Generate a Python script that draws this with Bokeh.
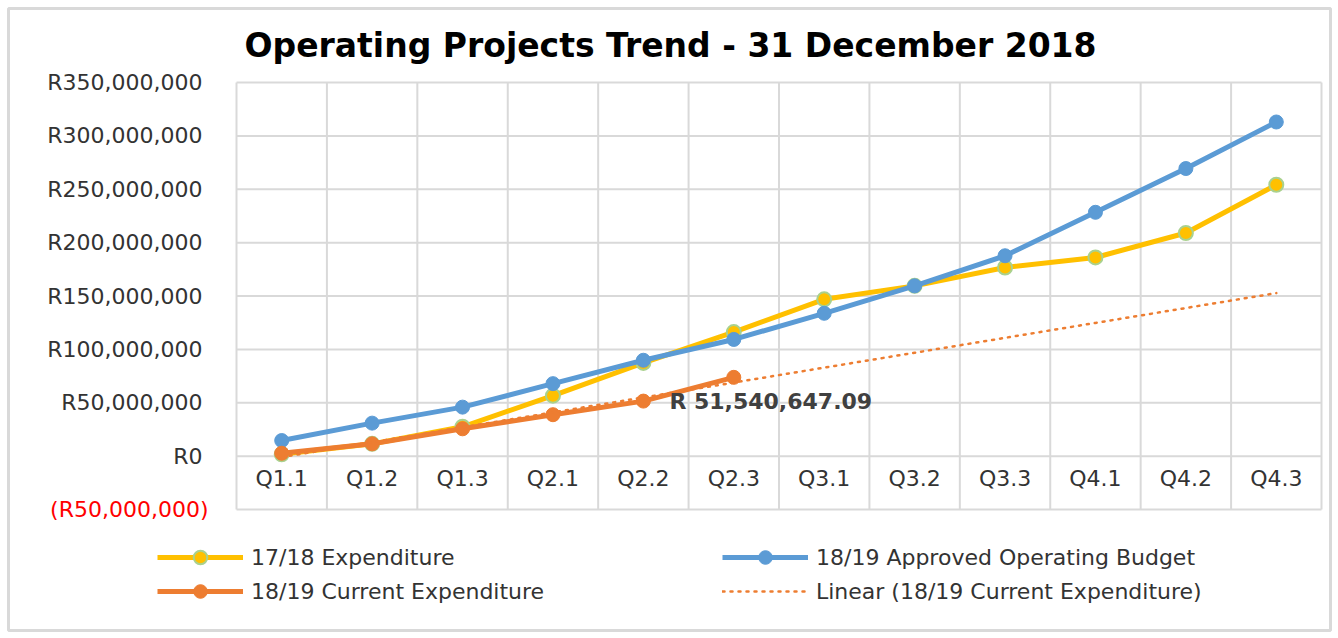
import numpy as np
from bokeh.plotting import figure
from bokeh.models import (FixedTicker, Label, Legend, LegendItem, ColumnDataSource,
                          LinearAxis, Range1d)
from bokeh.embed import file_html
from bokeh.resources import INLINE

categories = ["Q1.1", "Q1.2", "Q1.3", "Q2.1", "Q2.2", "Q2.3",
              "Q3.1", "Q3.2", "Q3.3", "Q4.1", "Q4.2", "Q4.3"]
exp_1718 = [1.7e6, 11.5e6, 27.5e6, 56.6e6, 87.3e6, 116.2e6,
            146.9e6, 159.5e6, 176.7e6, 186.1e6, 209.0e6, 254.2e6]
budget_1819 = [14.6e6, 30.9e6, 45.9e6, 67.9e6, 89.8e6, 109.3e6,
               133.8e6, 159.5e6, 187.7e6, 228.4e6, 269.4e6, 313.0e6]
current_1819 = [2.7e6, 11.5e6, 25.6e6, 38.8e6, 51540647.09, 73.8e6]
y_ticks = [-50e6, 0, 50e6, 100e6, 150e6, 200e6, 250e6, 300e6, 350e6]
title_text = "Operating Projects Trend - 31 December 2018"
data_label = "R 51,540,647.09"
label_index = 4

FONT = "DejaVu Sans"
GRID = "#d9d9d9"
TXT = "#333333"
YEL, BLU, ORA = "#ffc000", "#5b9bd5", "#ed7d31"

# canvas, outer margin, and plot-area box (pixels inside the bordered frame)
W, H, M = 1338, 638, 8
FW, FH = W - 2 * M, H - 2 * M
PL, PR, PT, PB = 228, 1313, 74, 501

n = len(categories)
xs = list(range(n))
xc = xs[:len(current_1819)]

x0, x1 = -0.5, n - 0.5
y0, y1 = y_ticks[0], y_ticks[-1]
kx = (PR - PL) / (x1 - x0)
ky = (PB - PT) / (y1 - y0)
x_range = Range1d(x0 - PL / kx, x1 + (FW - PR) / kx)
y_range = Range1d(y0 - (FH - PB) / ky, y1 + PT / ky)

# linear trend of the current expenditure, over all quarters
coef = np.polyfit(np.array(xc) + 1, np.array(current_1819), 1)
trend = list(np.polyval(coef, np.array(xs) + 1))

p = figure(width=W, height=H, output_backend="svg", toolbar_location=None,
           x_range=x_range, y_range=y_range,
           min_border_left=M, min_border_right=M, min_border_top=M,
           min_border_bottom=M)
p.background_fill_color = "white"
p.border_fill_color = "white"
p.outline_line_color = GRID
p.outline_line_width = 3
p.xgrid.grid_line_color = None
p.ygrid.grid_line_color = None

# grid of the plot area
bounds = [i - 0.5 for i in range(n + 1)]
p.segment(x0=[x0] * len(y_ticks), x1=[x1] * len(y_ticks), y0=y_ticks, y1=y_ticks,
          line_color=GRID, line_width=2)
p.segment(x0=bounds, x1=bounds, y0=[y0] * len(bounds), y1=[y1] * len(bounds),
          line_color=GRID, line_width=2)

# y axis (positive ticks)
p.yaxis.ticker = FixedTicker(ticks=[t for t in y_ticks if t >= 0])
p.yaxis.major_label_overrides = {t: "R{:,.0f}".format(t) for t in y_ticks if t >= 0}
p.yaxis.fixed_location = x0
p.yaxis.axis_line_color = None
p.yaxis.major_tick_line_color = None
p.yaxis.minor_tick_line_color = None
p.yaxis.major_label_standoff = 28
p.yaxis.major_label_text_font = FONT
p.yaxis.major_label_text_font_size = "22px"
p.yaxis.major_label_text_color = TXT

# negative tick in red
neg = [t for t in y_ticks if t < 0]
ax_neg = LinearAxis(ticker=FixedTicker(ticks=neg),
                    major_label_overrides={t: "(R{:,.0f})".format(-t) for t in neg},
                    fixed_location=x0, axis_line_color=None,
                    major_tick_line_color=None, minor_tick_line_color=None,
                    major_label_standoff=22, major_label_text_font=FONT,
                    major_label_text_font_size="22px",
                    major_label_text_color="#ff0000")
p.add_layout(ax_neg, "left")

# x axis at y = 0
p.xaxis.ticker = FixedTicker(ticks=xs)
p.xaxis.major_label_overrides = {i: c for i, c in zip(xs, categories)}
p.xaxis.fixed_location = 0
p.xaxis.axis_line_color = None
p.xaxis.major_tick_line_color = None
p.xaxis.minor_tick_line_color = None
p.xaxis.major_label_standoff = 4
p.xaxis.major_label_text_font = FONT
p.xaxis.major_label_text_font_size = "22px"
p.xaxis.major_label_text_color = TXT

# title
p.add_layout(Label(x=662, y=FH - 37, x_units="screen", y_units="screen",
                   text=title_text, text_align="center", text_baseline="middle",
                   text_font=FONT, text_font_size="33px", text_font_style="bold",
                   text_color="black"))

s1 = ColumnDataSource(dict(x=xs, y=exp_1718))
s2 = ColumnDataSource(dict(x=xs, y=budget_1819))
s3 = ColumnDataSource(dict(x=xc, y=current_1819))
s4 = ColumnDataSource(dict(x=xs, y=trend))

l1 = p.line("x", "y", source=s1, line_color=YEL, line_width=5)
m1 = p.scatter("x", "y", source=s1, size=14, fill_color=YEL,
               line_color="#a9d18e", line_width=2)
l2 = p.line("x", "y", source=s2, line_color=BLU, line_width=5)
m2 = p.scatter("x", "y", source=s2, size=14, fill_color=BLU, line_color=BLU)
l3 = p.line("x", "y", source=s3, line_color=ORA, line_width=5)
m3 = p.scatter("x", "y", source=s3, size=14, fill_color=ORA, line_color=ORA)
l4 = p.line("x", "y", source=s4, line_color=ORA, line_width=2.5,
            line_dash="2 6", line_cap="round")

p.add_layout(Label(x=xc[label_index], y=current_1819[label_index], text=data_label,
                   x_offset=26, text_align="left", text_baseline="middle",
                   text_font=FONT, text_font_size="22px", text_font_style="bold",
                   text_color="#404040"))

legend = Legend(items=[
    LegendItem(label="17/18 Expenditure", renderers=[l1, m1]),
    LegendItem(label="18/19 Current Expenditure", renderers=[l3, m3]),
    LegendItem(label="18/19 Approved Operating Budget", renderers=[l2, m2]),
    LegendItem(label="Linear (18/19 Current Expenditure)", renderers=[l4]),
], location=(149, 22), ncols=2)
legend.margin = 0
legend.padding = 0
legend.border_line_color = None
legend.background_fill_alpha = 0
legend.glyph_width = 86
legend.glyph_height = 34
legend.label_height = 34
legend.label_width = 471
legend.label_standoff = 8
legend.spacing = 0
legend.label_text_font = FONT
legend.label_text_font_size = "22px"
legend.label_text_color = TXT
p.add_layout(legend, "center")

open("out.html", "w").write(file_html(p, INLINE))
